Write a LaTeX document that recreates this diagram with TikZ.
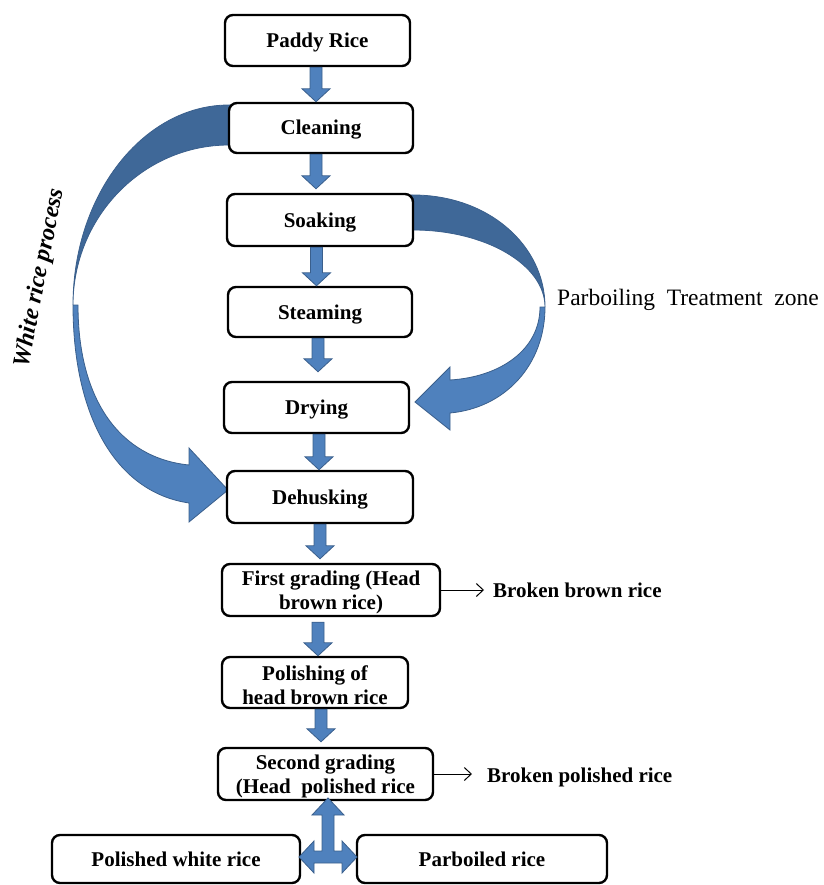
\documentclass[tikz,border=0pt]{standalone}
\usepackage{fontspec}
\setmainfont{Liberation Serif}
\usetikzlibrary{arrows.meta,calc,backgrounds}
\definecolor{arrfill}{HTML}{4F81BD}
\definecolor{arrdark}{HTML}{3F6898}
\definecolor{arredge}{HTML}{3A5F8C}
\newcommand\blkarr[5]{%
  \path[blockarr] let \p1=(#2.south), \p2=(#3.north) in
  (#1pt-6pt,\y1-#4pt) -- (#1pt+6pt,\y1-#4pt) -- (#1pt+6pt,\y2+#5pt+13pt) -- (#1pt+14pt,\y2+#5pt+13pt)
  -- (#1pt,\y2+#5pt) -- (#1pt-14pt,\y2+#5pt+13pt) -- (#1pt-6pt,\y2+#5pt+13pt) -- cycle;}
\newcommand\tallstrut{\rule{0pt}{20pt}}
\begin{document}
\begin{tikzpicture}[x=1pt,y=-1pt,
  box/.style={draw=black,line width=2.4pt,rounded corners=8pt,fill=white,inner sep=0pt,align=center,
    font=\fontsize{21}{24}\selectfont\bfseries},
  oneline/.style={text height=17pt,text depth=3pt},
  blockarr/.style={fill=arrfill,draw=arredge,line width=0.8pt,line join=miter},
  thinarr/.style={draw=black,line width=1pt,-{Straight Barb[length=7pt,width=13pt,line width=1pt]}},
  side/.style={inner sep=0pt,font=\fontsize{21}{25}\selectfont\bfseries}]
\useasboundingbox (0,0) rectangle (823,885);

% boxes
\node[box,oneline,minimum width=185pt,minimum height=51pt] (paddy) at (317.5,40.5) {Paddy Rice};
\node[box,oneline,minimum width=184pt,minimum height=50pt] (clean) at (321,128) {Cleaning};
\node[box,oneline,minimum width=186pt,minimum height=52pt] (soak) at (320,220) {Soaking};
\node[box,oneline,minimum width=184pt,minimum height=50pt] (steam) at (320,312) {Steaming};
\node[box,oneline,minimum width=185pt,minimum height=51pt] (dry) at (316.5,407.5) {Drying};
\node[box,oneline,minimum width=186pt,minimum height=52pt] (dehusk) at (320,497) {Dehusking};
\node[box,minimum width=218pt,minimum height=52pt] (grade1) at (331,590) {\tallstrut First grading (Head\\brown rice)};
\node[box,minimum width=186pt,minimum height=51pt] (polish) at (315,682.5) {\tallstrut Polishing of\\head brown rice};
\node[box,minimum width=215pt,minimum height=52pt] (grade2) at (325.5,774) {\tallstrut Second grading\\(Head\ \ polished rice};
\node[box,oneline,minimum width=248pt,minimum height=48pt] (white) at (176,859) {Polished white rice};
\node[box,oneline,minimum width=250pt,minimum height=48pt] (parb) at (482,859) {Parboiled rice};

% block arrows between boxes
\blkarr{316}{paddy}{clean}{0}{0}
\blkarr{316}{clean}{soak}{0}{4}
\blkarr{316.5}{soak}{steam}{0}{0}
\blkarr{318}{steam}{dry}{0}{9}
\blkarr{319}{dry}{dehusk}{0}{0}
\blkarr{320}{dehusk}{grade1}{0}{4}
\blkarr{318}{grade1}{polish}{5}{0}
\blkarr{321}{polish}{grade2}{0}{5}

% three-way arrow
\path[blockarr] (328,798) -- (344,815) -- (334,815) -- (334,851) -- (342,851) -- (342,841) -- (357,857)
  -- (342,873) -- (342,863) -- (314,863) -- (314,873) -- (299,857) -- (314,841) -- (314,851)
  -- (322,851) -- (322,815) -- (312,815) -- cycle;

% curved arrows
\begin{scope}[on background layer]
  % white rice process (left)
  \path[blockarr,fill=arrdark] (236,105) -- (229,105) .. controls (143,105) and (73,195) .. (73,305)
    .. controls (73,217) and (143,145) .. (229,145) -- (236,145) -- cycle;
  \path[blockarr] (78,305) .. controls (78,400) and (120,458) .. (189,465) -- (189,448) -- (228,490)
    -- (189,522) -- (189,503) .. controls (115,492) and (73,415) .. (73,305) -- cycle;
  % parboiling (right)
  \path[blockarr,fill=arrdark] (406,195) -- (413,195) .. controls (488,195) and (545,245) .. (545,307)
    .. controls (545,265) and (486,230) .. (413,230) -- (406,230) -- cycle;
  \path[blockarr] (540,307) .. controls (540,350) and (500,377) .. (450,380) -- (450,367) -- (415,402)
    -- (450,430) -- (450,413) .. controls (505,408) and (545,365) .. (545,307) -- cycle;
\end{scope}

% side outputs
\node[side,anchor=base west] (bbr) at (493,597) {Broken brown rice};
\node[side,anchor=base west] (bpr) at (487,782) {Broken polished rice};
\draw[thinarr,shorten >=9pt] (grade1.east) -- (grade1.east -| bbr.west);
\draw[thinarr,shorten >=15pt] (grade2.east) -- (grade2.east -| bpr.west);

% labels
\node[inner sep=0pt,anchor=base west,font=\fontsize{23.5}{28}\selectfont] (ptz) at (557,305)
  {Parboiling\ \ Treatment\ \ zone};
\node[inner sep=0pt,rotate=79,font=\fontsize{24}{28}\selectfont\bfseries\itshape] (wrp) at (40,278)
  {White rice process};
\end{tikzpicture}
\end{document}
